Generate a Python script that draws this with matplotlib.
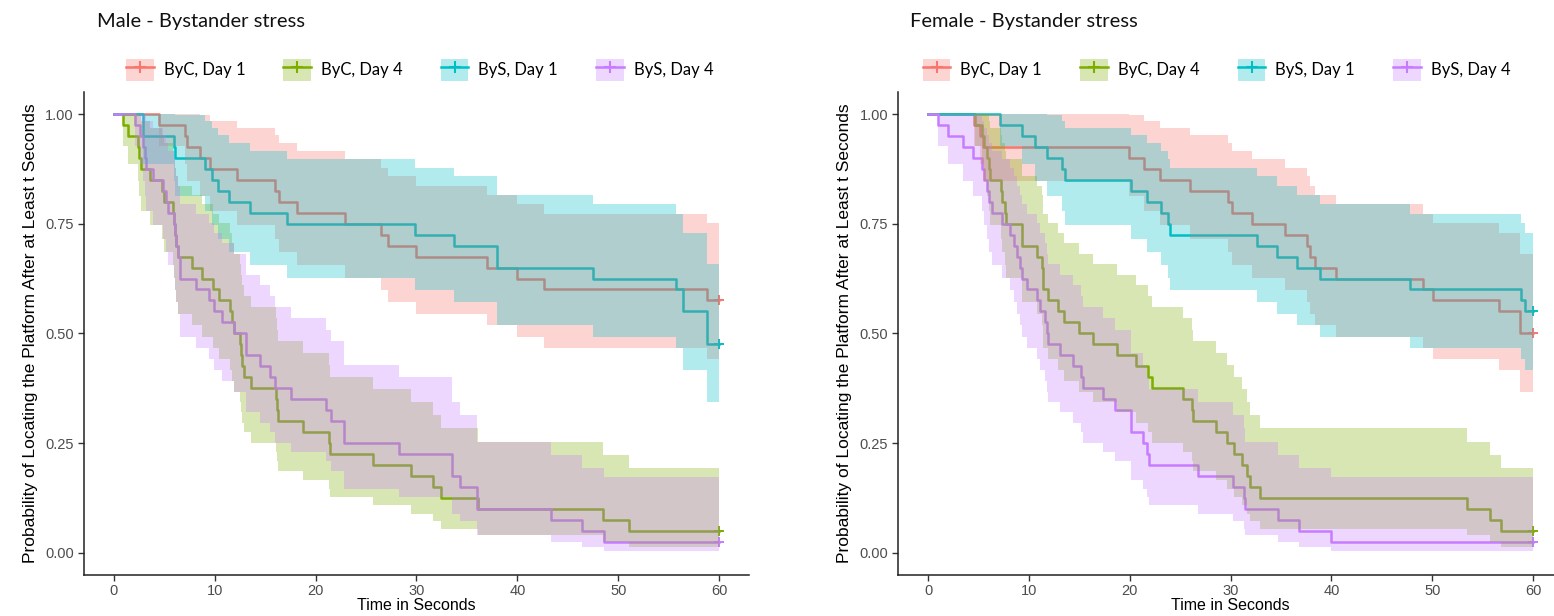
import numpy as np
import matplotlib.pyplot as plt
from matplotlib.lines import Line2D
from matplotlib.patches import Patch

plt.rcParams['font.family'] = ['Liberation Sans', 'DejaVu Sans']

groups = ["ByC, Day 1", "ByC, Day 4", "ByS, Day 1", "ByS, Day 4"]
colors = ["#F8766D", "#7CAE00", "#00BFC4", "#C77CFF"]
n_mice = 40
t_end = 60

# 95% limits (log scale) indexed by the number of platform finds so far
ci_upper = [1.0, 1.0, 1.0, 1.0, 0.998, 0.984, 0.968, 0.952, 0.934, 0.916,
            0.897, 0.878, 0.858, 0.837, 0.816, 0.795, 0.773, 0.751, 0.728, 0.705,
            0.682, 0.658, 0.634, 0.610, 0.585, 0.560, 0.534, 0.508, 0.482, 0.455,
            0.428, 0.400, 0.372, 0.343, 0.314, 0.284, 0.253, 0.223, 0.193, 0.173]
ci_lower = [1.0, 0.928, 0.885, 0.847, 0.812, 0.778, 0.746, 0.715, 0.685, 0.656,
            0.627, 0.599, 0.572, 0.544, 0.518, 0.492, 0.466, 0.441, 0.416, 0.391,
            0.367, 0.343, 0.320, 0.296, 0.274, 0.251, 0.229, 0.208, 0.187, 0.166,
            0.146, 0.127, 0.108, 0.089, 0.072, 0.055, 0.040, 0.025, 0.013, 0.004]

# male
m_byc1_t = [4.5, 7.0, 7.2, 8.5, 9.5, 12.2, 16.0, 16.4, 18.2, 22.9, 26.5, 27.2,
            30.0, 37.0, 40.0, 42.6, 58.8]
m_byc1_s = [0.975, 0.95, 0.925, 0.9, 0.875, 0.85, 0.825, 0.8, 0.775, 0.75, 0.725,
            0.7, 0.675, 0.65, 0.625, 0.6, 0.575]
m_byc4_t = [0.9, 1.4, 2.4, 2.5, 2.7, 3.6, 4.8, 5.0, 5.9, 6.0, 6.1, 6.2, 6.4, 7.7,
            8.7, 9.8, 10.4, 11.5, 11.7, 11.9, 12.5, 12.6, 12.7, 12.9, 13.6, 16.1,
            16.2, 16.3, 18.7, 21.3, 21.4, 25.7, 29.5, 31.6, 32.4, 36.1, 48.5, 51.1]
m_byc4_s = [0.975, 0.95, 0.925, 0.9, 0.875, 0.85, 0.825, 0.8, 0.775, 0.75, 0.725,
            0.7, 0.675, 0.65, 0.625, 0.6, 0.575, 0.55, 0.525, 0.5, 0.475, 0.45,
            0.425, 0.4, 0.375, 0.35, 0.325, 0.3, 0.275, 0.25, 0.225, 0.2, 0.175,
            0.15, 0.125, 0.1, 0.075, 0.05]
m_bys1_t = [2.9, 6.0, 6.1, 9.0, 9.7, 10.3, 11.4, 13.5, 17.2, 29.9, 33.7, 38.0,
            47.5, 55.7, 56.4, 58.8]
m_bys1_s = [0.95, 0.925, 0.9, 0.875, 0.85, 0.825, 0.8, 0.775, 0.75, 0.725, 0.7,
            0.65, 0.625, 0.6, 0.55, 0.475]
m_bys4_t = [2.1, 2.6, 2.9, 3.05, 3.2, 3.9, 4.9, 5.2, 5.4, 6.0, 6.1, 6.2, 6.35, 6.5,
            8.1, 9.4, 9.9, 10.7, 11.9, 13.1, 14.5, 15.5, 16.0, 17.6, 21.0, 21.5,
            22.8, 28.3, 33.5, 34.3, 36.0, 43.3, 46.4, 48.6]
m_bys4_s = [0.975, 0.95, 0.925, 0.9, 0.875, 0.85, 0.825, 0.8, 0.775, 0.75, 0.725,
            0.7, 0.675, 0.625, 0.6, 0.575, 0.55, 0.525, 0.5, 0.45, 0.425, 0.4,
            0.375, 0.35, 0.325, 0.3, 0.25, 0.225, 0.175, 0.15, 0.1, 0.075, 0.05,
            0.025]

# female
f_byc1_t = [4.6, 5.2, 5.4, 19.9, 21.4, 23.0, 26.0, 29.7, 30.1, 32.1, 35.4, 37.6,
            37.9, 38.4, 40.5, 49.1, 50.1, 56.6, 58.7]
f_byc1_s = [0.975, 0.95, 0.925, 0.9, 0.875, 0.85, 0.825, 0.8, 0.775, 0.75, 0.725,
            0.7, 0.675, 0.65, 0.625, 0.6, 0.575, 0.55, 0.5]
f_byc4_t = [4.7, 5.3, 5.5, 5.8, 6.0, 6.15, 7.2, 7.3, 7.6, 7.7, 9.3, 9.35, 10.8,
            11.3, 11.35, 11.4, 11.9, 12.9, 13.5, 15.0, 16.4, 18.7, 20.6, 21.8,
            22.2, 25.3, 26.2, 26.3, 28.6, 29.6, 30.3, 31.1, 31.6, 31.9, 32.9,
            53.4, 55.7, 56.8]
f_byc4_s = [0.975, 0.95, 0.925, 0.9, 0.875, 0.85, 0.825, 0.8, 0.775, 0.75, 0.725,
            0.7, 0.675, 0.65, 0.625, 0.6, 0.575, 0.55, 0.525, 0.5, 0.475, 0.45,
            0.425, 0.4, 0.375, 0.35, 0.325, 0.3, 0.275, 0.25, 0.225, 0.2, 0.175,
            0.15, 0.125, 0.1, 0.075, 0.05]
f_bys1_t = [7.1, 9.3, 10.6, 11.8, 13.3, 13.6, 20.1, 21.7, 23.1, 23.8, 24.0, 32.6,
            34.6, 36.6, 38.9, 47.8, 58.8, 59.2]
f_bys1_s = [0.975, 0.95, 0.925, 0.9, 0.875, 0.85, 0.825, 0.8, 0.775, 0.75, 0.725,
            0.7, 0.675, 0.65, 0.625, 0.6, 0.575, 0.55]
f_bys4_t = [1.0, 2.0, 3.5, 4.5, 5.3, 5.5, 5.8, 6.0, 6.3, 7.3, 8.1, 8.5, 8.8, 9.1,
            9.3, 9.8, 10.8, 11.1, 11.6, 11.8, 11.9, 13.1, 14.4, 15.2, 15.35, 17.3,
            18.5, 20.1, 20.15, 21.3, 21.7, 21.9, 26.8, 30.2, 31.3, 31.4, 34.7,
            36.8, 40.0]
f_bys4_s = [0.975, 0.95, 0.925, 0.9, 0.875, 0.85, 0.825, 0.8, 0.775, 0.75, 0.725,
            0.7, 0.675, 0.65, 0.625, 0.6, 0.575, 0.55, 0.525, 0.5, 0.475, 0.45,
            0.425, 0.4, 0.375, 0.35, 0.325, 0.3, 0.275, 0.25, 0.225, 0.2, 0.175,
            0.15, 0.125, 0.1, 0.075, 0.05, 0.025]

male = [(m_byc1_t, m_byc1_s), (m_byc4_t, m_byc4_s),
        (m_bys1_t, m_bys1_s), (m_bys4_t, m_bys4_s)]
female = [(f_byc1_t, f_byc1_s), (f_byc4_t, f_byc4_s),
          (f_bys1_t, f_bys1_s), (f_bys4_t, f_bys4_s)]

W, H = 1554, 616
fig = plt.figure(figsize=(W / 100, H / 100), dpi=100)


def km_panel(ax, curves):
    up = np.array(ci_upper)
    lo = np.array(ci_lower)
    for (times, surv), c in zip(curves, colors):
        t = np.r_[0.0, times, t_end]
        s = np.r_[1.0, surv, surv[-1]]
        k = np.rint((1 - s) * n_mice).astype(int)
        ax.step(t, s, where='post', color=c, lw=1.8, zorder=2)
        ax.plot(t_end, s[-1], marker='+', ms=7, mew=1.4, color=c, zorder=2)
        ax.fill_between(t, lo[k], up[k], step='post', color=c, alpha=0.3,
                        lw=0, zorder=3)
    ax.set_xlim(-3, 63)
    ax.set_ylim(-0.05, 1.05)
    ax.set_xticks(range(0, 61, 10))
    ax.set_yticks([0, 0.25, 0.5, 0.75, 1.0])
    ax.set_yticklabels(["0.00", "0.25", "0.50", "0.75", "1.00"])
    for side in ('top', 'right'):
        ax.spines[side].set_visible(False)
    for side in ('left', 'bottom'):
        ax.spines[side].set_linewidth(1.1)
        ax.spines[side].set_color('#222222')
    ax.tick_params(direction='out', length=4, width=1, color='#333333',
                   labelsize=10.5, labelcolor='#4D4D4D', pad=3)
    ax.set_xlabel("Time in Seconds", fontsize=11.5, labelpad=0)
    ax.set_ylabel("Probability of Locating the Platform After at Least t Seconds",
                  fontsize=12.5, labelpad=5)


def legend_handles():
    hs = []
    for c in colors:
        hs.append((Patch(facecolor=c, alpha=0.3, lw=0),
                   Line2D([], [], color=c, lw=1.8, marker='+', ms=9, mew=1.5)))
    return hs


panels = [(83.7, male, "Male - Bystander stress", 97, 126),
          (897.8, female, "Female - Bystander stress", 910, 923)]
for x0, curves, title, tx, lx in panels:
    ax = fig.add_axes([x0 / W, 41.4 / H, 665.6 / W, 482.5 / H])
    km_panel(ax, curves)
    fig.text(tx / W, 1 - 22 / H, title, fontsize=14.5, family=['Lato', 'DejaVu Sans'],
             va='center', ha='left', color='#111111')
    fig.legend(legend_handles(), groups, loc='center left',
               bbox_to_anchor=(lx / W, 1 - 70 / H), ncol=4, frameon=False,
               prop={'family': ['Lato', 'DejaVu Sans'], 'size': 12},
               handlelength=1.65, handleheight=1.65, handletextpad=0.6,
               columnspacing=2.3, borderpad=0, borderaxespad=0)

fig.savefig("out.png", dpi=100)
